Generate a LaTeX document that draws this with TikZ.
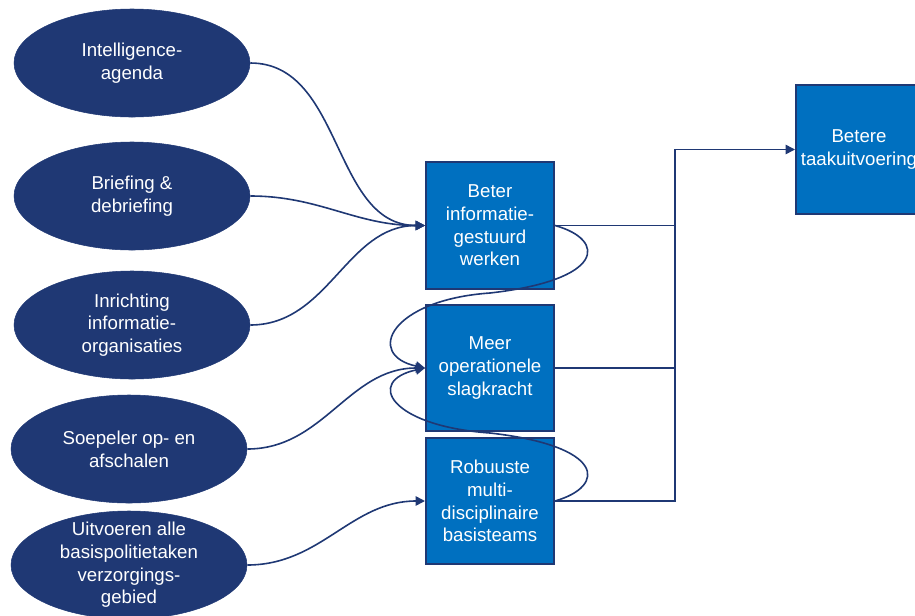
\documentclass[tikz,border=0pt]{standalone}
\usepackage{fontspec}
\setmainfont{Liberation Sans}
\usetikzlibrary{shapes.geometric,arrows.meta}

\definecolor{navy}{RGB}{31,56,116}
\definecolor{boxblue}{RGB}{0,112,192}

\tikzset{
	goal/.style={ellipse, fill=navy, draw=navy, text=white, align=center,
		inner sep=0pt, minimum width=177pt, minimum height=81pt,
		font=\fontsize{14}{17}\selectfont},
	effect/.style={rectangle, fill=boxblue, draw=navy, line width=1.5pt,
		text=white, align=center, minimum width=96pt, minimum height=95pt,
		font=\fontsize{14}{17}\selectfont},
	link/.style={draw=navy, line width=1.2pt},
	arr/.style={link, -{Triangle[length=7pt,width=7pt]}}
}

\begin{document}
\begin{tikzpicture}[x=0.75pt,y=-0.75pt]
\useasboundingbox (0,0) rectangle (915,615);
\clip (0,0) rectangle (915,615);

	%left column
\node[goal] (agenda) at (132,63) {Intelligence-\\agenda};
\node[goal] (briefing) at (132,196) {Briefing \&\\debriefing};
\node[goal] (inrichting) at (132,325) {Inrichting\\informatie-\\organisaties};
\node[goal] (schalen) at (129,449) {Soepeler op- en\\afschalen};
\node[goal, inner ysep=-5pt] (basistaken) at (129,565) {Uitvoeren alle\\basispolitietaken\\verzorgings-\\gebied};


	%middle column
\node[effect] (infogestuurd) at (490,225.5) {Beter\\informatie-\\gestuurd\\werken};
\node[effect] (slagkracht) at (490,368) {Meer\\operationele\\slagkracht};
\node[effect] (basisteams) at (490,501) {Robuuste\\multi-\\disciplinaire\\basisteams};

	%result
\node[effect, minimum width=94.5pt, minimum height=96.75pt] (taak) at (859,149.5) {Betere\\taakuitvoering};

\coordinate (bus) at (675,149.5);


	%curved links
\draw[arr] (agenda.east) to[out=0,in=180] (infogestuurd.west);
\draw[arr] (briefing.east) to[out=0,in=180] (infogestuurd.west);
\draw[arr] (inrichting.east) to[out=0,in=180] (infogestuurd.west);
\draw[arr] (schalen.east) to[out=0,in=180] (slagkracht.west);
\draw[arr] (basistaken.east) to[out=0,in=180] (basisteams.west);

	%loops back to slagkracht
\draw[arr] (infogestuurd.east) .. controls +(52,14.5) and +(115,-13) .. (490,293)
	.. controls +(-100,7) and +(-60,-13) .. (slagkracht.west);
\draw[arr] (basisteams.east) .. controls +(52,-15) and +(115,13) .. (490,433)
	.. controls +(-100,-7) and +(-60,13) .. (slagkracht.west);

	%to result
\draw[link] (infogestuurd.east) -- (infogestuurd.east -| bus);
\draw[link] (slagkracht.east) -- (slagkracht.east -| bus);
\draw[arr] (basisteams.east) -| (bus) -- (taak.west);

\end{tikzpicture}
\end{document}
